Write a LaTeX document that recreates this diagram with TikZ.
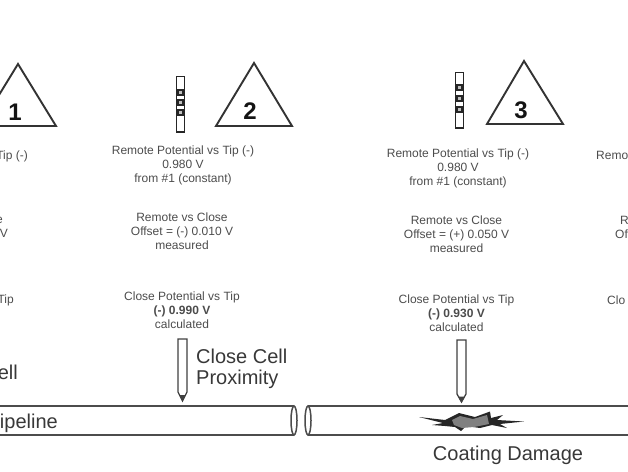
\documentclass[tikz,border=0pt]{standalone}
\usepackage{fontspec}
\setmainfont{Liberation Sans}
\tikzset{
  x=1pt,y=-1pt,
  small/.style={font=\fontsize{12}{14}\selectfont,text=black!70,align=center,inner sep=0pt},
  big/.style={font=\fontsize{20}{23}\selectfont,text=black!78,inner sep=0pt},
  tri/.style={draw=black!80,line width=1.9pt,line join=miter},
  num/.style={font=\fontsize{24}{25}\bfseries\selectfont,text=black!92,inner sep=0pt},
  cellbar/.style={draw=black!85,line width=1.4pt,fill=white},
  cellbox/.style={draw=black!85,line width=1.1pt,fill=black!25},
  pen/.style={draw=black!75,line width=1.3pt,fill=white},
  pipe/.style={draw=black!70,line width=1.5pt},
}
\begin{document}
\begin{tikzpicture}
\useasboundingbox (0,0) rectangle (628,471);
\clip (0,0) rectangle (628,471);
% triangles
\draw[tri] (18,64) -- (56,126) -- (-20,126) -- cycle;
\draw[tri] (254,63) -- (292,126) -- (216,126) -- cycle;
\draw[tri] (524,61) -- (563,124) -- (487,124) -- cycle;
\node[num] (n1) at (15,112) {1};
\node[num] (n2) at (250,111) {2};
\node[num] (n3) at (521,110) {3};
% remote cells
\draw[cellbar] (176.5,76.5) rectangle (184.5,132);
\foreach \y in {90,100,110}{\draw[cellbox] (178,\y) rectangle (183,\y+5);}
\draw[cellbar] (455.5,72.5) rectangle (463.5,128);
\foreach \y in {85,96,107}{\draw[cellbox] (457,\y) rectangle (462,\y+5);}
% column 1 fragments
\node[small,anchor=east] (a1) at (28,156.5) {Tip (-)};
\node[small,anchor=east] (a2) at (3,220) {e};
\node[small,anchor=east] (a3) at (8,233) {V};
\node[small,anchor=east] (a4) at (14,300) {Tip};
\node[big,anchor=east] (a5) at (18,372) {ell};
% column 2
\node[small] (b1) at (183,165.5) {Remote Potential vs Tip (-)\\0.980 V\\from \#1 (constant)};
\node[small] (b2) at (182,231.5) {Remote vs Close\\Offset = (-) 0.010 V\\measured};
\node[small] (b3) at (182,310) {Close Potential vs Tip\\\textbf{(-) 0.990 V}\\calculated};
% column 3
\node[small] (c1) at (458,168.5) {Remote Potential vs Tip (-)\\0.980 V\\from \#1 (constant)};
\node[small] (c2) at (456.5,234.5) {Remote vs Close\\Offset = (+) 0.050 V\\measured};
\node[small] (c3) at (456.5,313) {Close Potential vs Tip\\\textbf{(-) 0.930 V}\\calculated};
% column 4 fragments
\node[small,anchor=west] (d1) at (596,155.5) {Remo};
\node[small,anchor=west] (d2) at (620,220) {R};
\node[small,anchor=west] (d3) at (615,234) {Of};
\node[small,anchor=west] (d4) at (607,300) {Clo};
% half cells
\draw[pen] (178,339) -- (187,339) -- (187,392) -- (182.5,401) -- (178,392) -- cycle;
\fill[black!75] (179.5,395) -- (185.5,395) -- (182.5,401.5) -- cycle;
\draw[pen] (457,340) -- (466,340) -- (466,394) -- (461.5,402) -- (457,394) -- cycle;
\fill[black!75] (458.5,396.5) -- (464.5,396.5) -- (461.5,402.5) -- cycle;
% pipeline
\draw[pipe] (-5,406) -- (294,406);
\draw[pipe] (-5,435) -- (294,435);
\draw[pipe,fill=white] (294,420.5) ellipse [x radius=3,y radius=14.5];
\draw[pipe] (308,406) -- (633,406);
\draw[pipe] (308,435) -- (633,435);
\draw[pipe,fill=white] (308,420.5) ellipse [x radius=3,y radius=14.5];
\node[big,anchor=east] (p) at (58,423) {Pipeline};
\node[big,anchor=west] (e1) at (196,356.5) {Close Cell};
\node[big,anchor=west] (e2) at (196,379.5) {Proximity};
% coating damage
\fill[black!85] (419,417) -- (445,420) -- (459,413) -- (475,417) -- (490,411.5) -- (491,418) -- (503,415) -- (497,420) -- (524,421.5) -- (500,424) -- (507,428) -- (492,425) -- (480,428) -- (466,426) -- (461,431) -- (455,427) -- (445,426) -- (432,425) -- (443,423) -- cycle;
\fill[black!50] (452,420) -- (460,416) -- (473,419) -- (487,415) -- (489,424) -- (474,427) -- (462,428) -- (454,425) -- cycle;
\node[big] (cd) at (508,455) {Coating Damage};
\end{tikzpicture}
\end{document}
